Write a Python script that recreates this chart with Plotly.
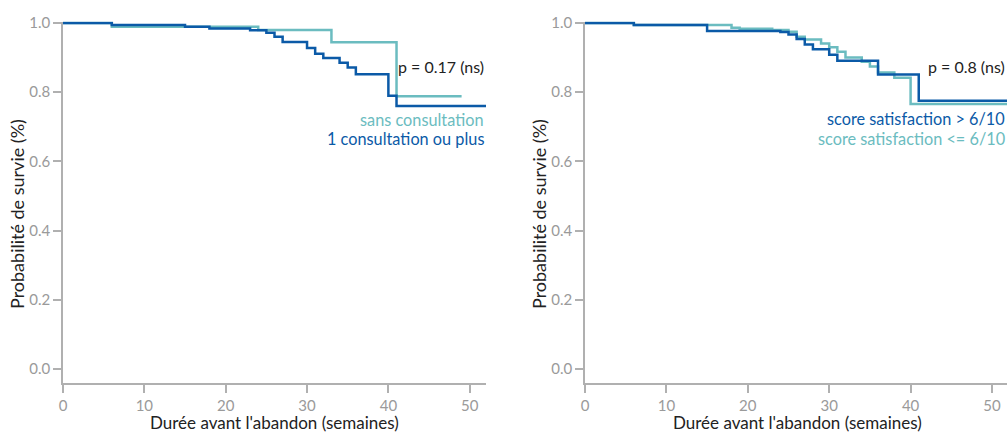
import plotly.graph_objects as go

# ---- data ----
left_plus_t = [0, 6, 15, 18, 23, 25, 26, 27, 30, 31, 32, 34, 35, 36, 40, 41, 52]
left_plus_s = [1.0, 0.994, 0.989, 0.984, 0.979, 0.972, 0.960, 0.945, 0.928, 0.911, 0.899, 0.885, 0.871, 0.852, 0.790, 0.760, 0.760]

left_sans_t = [0, 6, 24, 33, 41, 49]
left_sans_s = [1.0, 0.989, 0.980, 0.944, 0.788, 0.788]

right_high_t = [0, 6, 15, 24, 25, 26, 27, 28, 30, 31, 36, 41, 52]
right_high_s = [1.0, 0.994, 0.977, 0.974, 0.967, 0.954, 0.938, 0.924, 0.908, 0.891, 0.851, 0.775, 0.775]

right_low_t = [0, 6, 18, 19, 23, 25, 26, 27, 29, 30, 31, 32, 34, 35, 36, 38, 40, 52]
right_low_s = [1.0, 0.994, 0.986, 0.983, 0.980, 0.975, 0.960, 0.952, 0.941, 0.930, 0.917, 0.900, 0.888, 0.874, 0.857, 0.842, 0.766, 0.766]

x_ticks = [0, 10, 20, 30, 40, 50]
y_ticks = [0.0, 0.2, 0.4, 0.6, 0.8, 1.0]

labels_left = ["sans consultation", "1 consultation ou plus"]
labels_right = ["score satisfaction > 6/10", "score satisfaction <= 6/10"]
p_left = "p = 0.17 (ns)"
p_right = "p = 0.8 (ns)"
x_title = "Durée avant l'abandon (semaines)"
y_title = "Probabilité de survie (%)"

DARK = "#0b5aa7"
TEAL = "#6bbcc0"
TXT = "#222222"
TICK = "#9a9a9a"
AX = "#b0b0b0"
FONT = "Lato"

W, H = 1007, 432

fig = go.Figure()
fig.add_trace(go.Scatter(x=left_sans_t, y=left_sans_s, mode="lines", line=dict(color=TEAL, width=2.5, shape="hv"),
                         xaxis="x", yaxis="y", showlegend=False, hoverinfo="skip"))
fig.add_trace(go.Scatter(x=left_plus_t, y=left_plus_s, mode="lines", line=dict(color=DARK, width=2.5, shape="hv"),
                         xaxis="x", yaxis="y", showlegend=False, hoverinfo="skip"))
fig.add_trace(go.Scatter(x=right_low_t, y=right_low_s, mode="lines", line=dict(color=TEAL, width=2.5, shape="hv"),
                         xaxis="x2", yaxis="y2", showlegend=False, hoverinfo="skip"))
fig.add_trace(go.Scatter(x=right_high_t, y=right_high_s, mode="lines", line=dict(color=DARK, width=2.5, shape="hv"),
                         xaxis="x2", yaxis="y2", showlegend=False, hoverinfo="skip"))

ydom = [49 / H, (H - 21.6) / H]
yrange = [-0.0405, 1.004]

def xax(domain, rng, anchor):
    return dict(domain=domain, range=rng, anchor=anchor, showline=True, linecolor=AX, linewidth=1.5,
                ticks="outside", ticklen=8, tickwidth=1.5, tickcolor=AX, tickvals=x_ticks,
                tickfont=dict(family=FONT, size=15, color=TICK), showgrid=False, zeroline=False,
                automargin=False, fixedrange=True)

def yax(anchor):
    return dict(domain=ydom, range=yrange, anchor=anchor, showline=True, linecolor=AX, linewidth=1.5,
                ticks="outside", ticklen=8, tickwidth=1.5, tickcolor=AX, tickvals=y_ticks, tickformat=".1f",
                tickfont=dict(family=FONT, size=15, color=TICK), showgrid=False, zeroline=False,
                automargin=False, fixedrange=True)

left_dom = [63 / W, 486 / W]
right_dom = [585 / W, 1.0]

annotations = []
def txt(text, x, y, xref, yref, color=TXT, size=16, xanchor="right", angle=0):
    annotations.append(dict(text=text, x=x, y=y, xref=xref, yref=yref, xanchor=xanchor, yanchor="middle",
                            showarrow=False, textangle=angle, font=dict(family=FONT, size=size, color=color)))

def ypx(p):
    return (H - p) / H

# left panel texts
txt(p_left, 1, ypx(66.7), "x domain", "paper", size=16)
txt(labels_left[0], 1, ypx(119.2), "x domain", "paper", color=TEAL, size=16.3)
txt(labels_left[1], 1, ypx(138.9), "x domain", "paper", color=DARK, size=16.3)
txt(x_title, (63 + 486) / 2 / W, ypx(422), "paper", "paper", xanchor="center", size=17)
txt(y_title, 17 / W, ypx(214), "paper", "paper", xanchor="center", angle=-90, size=18)
# right panel texts
txt(p_right, 1, ypx(66.7), "x2 domain", "paper", size=16)
txt(labels_right[0], 1, ypx(118.6), "x2 domain", "paper", color=DARK, size=16.3)
txt(labels_right[1], 1, ypx(138.6), "x2 domain", "paper", color=TEAL, size=16.3)
txt(x_title, 797 / W, ypx(422), "paper", "paper", xanchor="center", size=17)
txt(y_title, 539 / W, ypx(214), "paper", "paper", xanchor="center", angle=-90, size=18)

fig.update_layout(
    width=W, height=H, autosize=False,
    margin=dict(l=0, r=0, t=0, b=0, pad=0),
    paper_bgcolor="white", plot_bgcolor="white",
    font=dict(family=FONT, color=TXT),
    xaxis=xax(left_dom, [0, 52], "y"),
    yaxis=yax("x"),
    xaxis2=xax(right_dom, [0, 422 / 8.14], "y2"),
    yaxis2=yax("x2"),
    annotations=annotations,
    showlegend=False,
)

fig.write_html("out.html", config={"displayModeBar": False},
               post_script="document.body.style.margin='0';document.body.style.padding='0';document.body.style.overflow='hidden';")
